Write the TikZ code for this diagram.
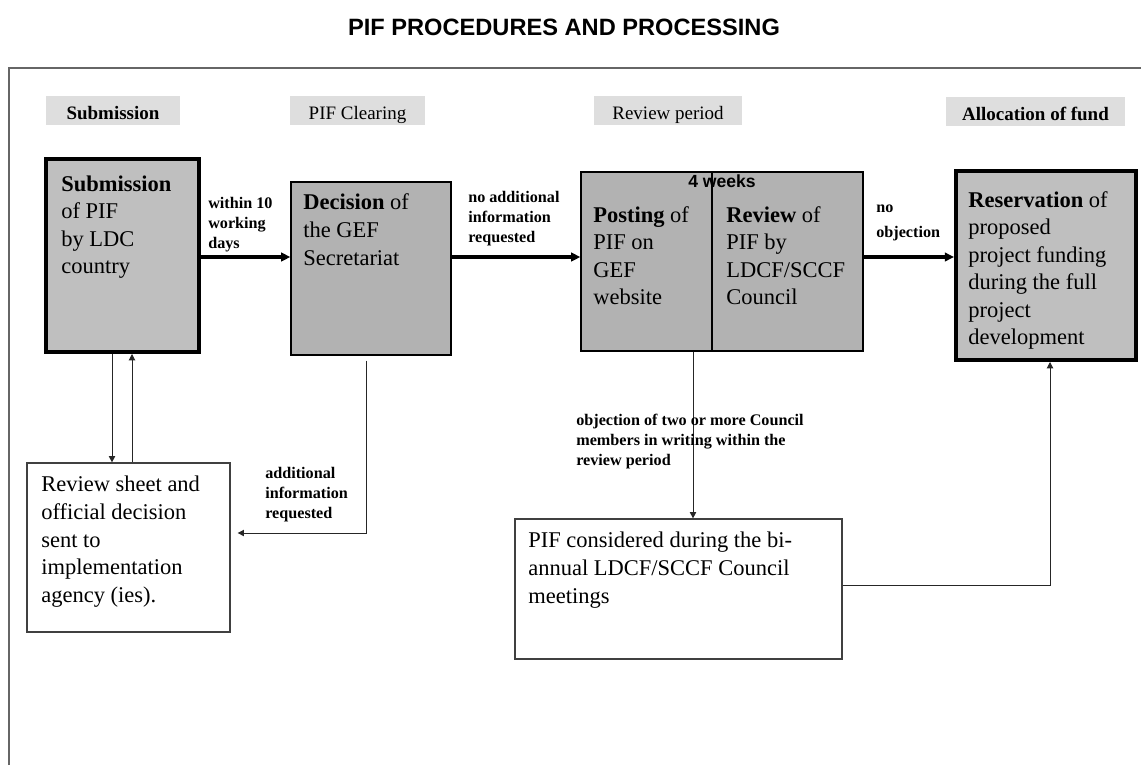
\documentclass[tikz,border=0pt]{standalone}
\usepackage{fontspec}
\setmainfont{Liberation Serif}
\newfontfamily\headsans{Liberation Sans}
\usetikzlibrary{arrows.meta,fit,calc}
\tikzset{
  keybox/.style={draw=black, line width=2.8pt, fill=black!25, inner sep=0pt},
  procbox/.style={draw=black, line width=0.9pt, fill=black!30, inner sep=0pt},
  notebox/.style={draw=black!75, line width=0.9pt, fill=white, inner sep=0pt},
  headbox/.style={fill=black!13, inner sep=0pt},
  headtext/.style={inner sep=0pt, text height=13pt, text depth=0pt, font=\fontsize{13.5}{16}\selectfont},
  boxtext/.style={anchor=base west, inner sep=0pt, align=left, font=\fontsize{16}{19.6}\selectfont},
  flowlabel/.style={anchor=base west, inner sep=0pt, align=left, font=\bfseries\fontsize{11.5}{14.2}\selectfont},
  mainflow/.style={line width=2.3pt, -{Triangle[length=6.5pt,width=6pt]}},
  sideflow/.style={line width=0.7pt, draw=black!85, -{Triangle[length=4.5pt,width=4.5pt]}},
  frameline/.style={line width=1.4pt, draw=black!60},
}

\begin{document}
\begin{tikzpicture}[x=0.025cm, y=-0.025cm]
\useasboundingbox (0,0) rectangle (1141,765);
% outer frame and title
\draw[frameline] (9,765) -- (9,68) -- (1141,68);
\node[anchor=base, font=\headsans\bfseries\fontsize{16.8}{20}\selectfont] (title) at (564,35) {PIF PROCEDURES AND PROCESSING};

% stage headings
\node[headbox, fit={(46,96) (180,125)}, label={[headtext]center:\textbf{Submission}}] (hsubmit) {};
\node[headbox, fit={(290,96) (425,125)}, label={[headtext]center:PIF Clearing}] (hclear) {};
\node[headbox, fit={(594,96) (742,125)}, label={[headtext]center:Review period}] (hreview) {};
\node[headbox, fit={(946,97) (1125,126)}, label={[headtext]center:\textbf{Allocation of fund}}] (halloc) {};

% boxes
\node[keybox, fit={(46,159) (199,352)}] (submit) {};
\node[procbox, fit={(291,182) (451,355)}] (decide) {};
\node[procbox, fit={(581,172) (863,351)}] (post) {};
\node[keybox, fit={(956,171) (1136,360)}] (reserve) {};
\node[notebox, fit={(27,463) (230,632)}] (sheet) {};
\node[notebox, fit={(515,519) (842,659)}] (council) {};
\coordinate (split) at (712,0);
\draw[line width=0.9pt] (split |- post.north) -- (split |- post.south);

% box texts (anchored on the last line)
\node[boxtext] at (61,273.7) {\textbf{Submission}\\of PIF\\by LDC\\country};
\node[boxtext] at (303,265.1) {\textbf{Decision} of\\the GEF\\Secretariat};
\node[boxtext] at (593,304.7) {\textbf{Posting} of\\PIF on\\GEF\\website};
\node[boxtext] at (726,304.7) {\textbf{Review} of\\PIF by\\LDCF/SCCF\\Council};
\node[anchor=base, inner sep=0pt, font=\headsans\bfseries\fontsize{12.5}{15}\selectfont] (weeks) at (722,187) {4 weeks};
\node[boxtext] at (968,344.8) {\textbf{Reservation} of\\proposed\\project funding\\during the full\\project\\development};
\node[boxtext] at (41,602.2) {Review sheet and\\official decision\\sent to\\implementation\\agency (ies).};
\node[boxtext] at (528,603.1) {PIF considered during the bi-\\annual LDCF/SCCF Council\\meetings};

% main flow
\coordinate (flowy) at (0,257);
\draw[mainflow] (submit.east |- flowy) -- (decide.west |- flowy);
\draw[mainflow] (decide.east |- flowy) -- (post.west |- flowy);
\draw[mainflow] (post.east |- flowy) -- (reserve.west |- flowy);
\node[flowlabel] at (208,248) {within 10\\working\\days};
\node[flowlabel] at (468,242) {no additional\\information\\requested};
\node[flowlabel] at (876,237.6) {no\\[4pt]objection};

% side flows
\coordinate (downx) at (112,0);
\coordinate (upx) at (132,0);
\draw[sideflow] (downx |- submit.south) -- (downx |- sheet.north);
\draw[sideflow] (upx |- sheet.north) -- (upx |- submit.south);
\coordinate (backturn) at (366,533);
\draw[sideflow, shorten >=5pt] ($(backturn |- decide.south)+(0,5)$) -- (backturn) -- (sheet.east |- backturn);
\node[flowlabel] at (265,518) {additional\\information\\requested};
\coordinate (objx) at (693,0);
\draw[sideflow] (objx |- post.south) -- (objx |- council.north);
\node[flowlabel] at (576,465) {objection of two or more Council\\members in writing within the\\review period};
\coordinate (joinx) at (1050,585);
\draw[sideflow] (council.east |- joinx) -| (joinx |- reserve.south);
\end{tikzpicture}
\end{document}
